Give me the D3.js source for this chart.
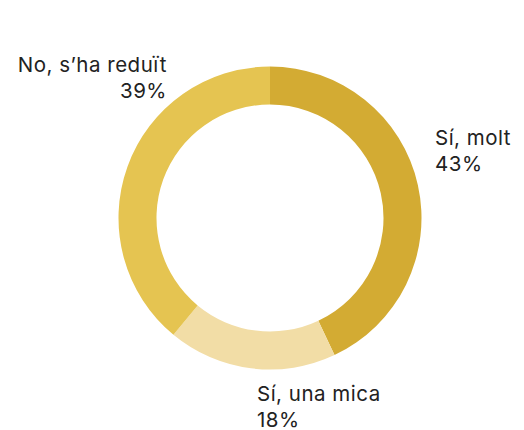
<!DOCTYPE html>
<html>
<head>
<meta charset="utf-8">
<script src="https://cdn.jsdelivr.net/npm/d3@7"></script>
<style>
  body { margin: 0; background: #fff; }
  text { font-family: Inter, "Open Sans", sans-serif; fill: #222; }
</style>
</head>
<body>
<div id="chart"></div>
<script>
var categories = ["Sí, molt", "Sí, una mica", "No, s’ha reduït"];
var values = [43, 18, 39];
var colors = ["#D3AB33", "#F2DDA6", "#E5C451"];

var width = 524, height = 430;
var cx = 270, cy = 218;
var outerR = 151.5, innerR = 113.5;

var svg = d3.select("#chart")
    .append("svg")
    .attr("width", width)
    .attr("height", height);

var g = svg.append("g")
    .attr("transform", "translate(" + cx + "," + cy + ")");

var data = categories.map(function(c, i) {
    return { name: c, value: values[i], color: colors[i] };
});

var pie = d3.pie()
    .sort(null)
    .value(function(d) { return d.value; });

var arc = d3.arc()
    .innerRadius(innerR)
    .outerRadius(outerR);

var arcs = pie(data);

g.selectAll("path")
    .data(arcs)
    .enter()
    .append("path")
    .attr("d", arc)
    .attr("fill", function(d) { return d.data.color; });

// label placement (relative to the chart centre)
var labelLayout = [
    { x: 165, y: -73, anchor: "start" },
    { x: -13, y: 183, anchor: "start" },
    { x: -103, y: -146, anchor: "end" }
];

arcs.forEach(function(d, i) {
    var lp = labelLayout[i];
    var t = g.append("text")
        .attr("x", lp.x)
        .attr("y", lp.y)
        .attr("text-anchor", lp.anchor)
        .style("font-size", "20.5px")
        .style("letter-spacing", "0.5px");
    t.append("tspan")
        .attr("x", lp.x)
        .text(d.data.name);
    t.append("tspan")
        .attr("x", lp.x)
        .attr("dy", 25.5)
        .text(d.data.value + "%");
});
</script>
</body>
</html>
